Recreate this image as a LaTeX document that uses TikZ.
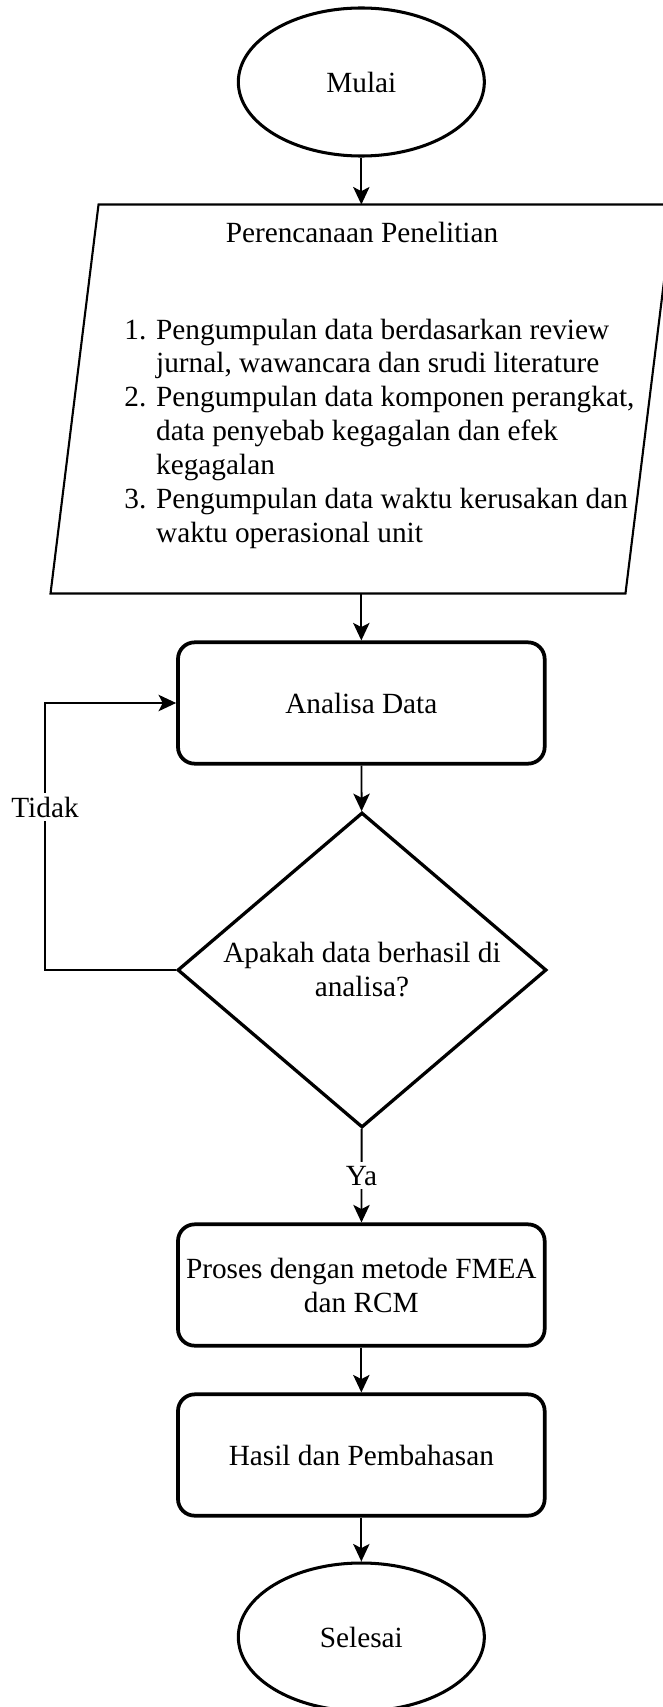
\documentclass[tikz,border=0pt]{standalone}
\usepackage{fontspec}
\setmainfont{Liberation Serif}
\usetikzlibrary{arrows.meta, positioning, shapes.geometric}

\begin{document}
\begin{tikzpicture}[
    every node/.style={font=\fontsize{12.5}{14.5}\selectfont},
    terminal/.style={draw, ellipse, line width=1.3pt,
                     minimum width=3.69cm, minimum height=2.22cm},
    process/.style ={draw, rectangle, rounded corners=0.25cm, line width=1.6pt,
                     align=center, inner sep=1pt,
                     minimum width=5.5cm, minimum height=1.82cm},
    inout/.style   ={rectangle, minimum width=8.61cm, minimum height=5.82cm},
    slant/.style   ={line width=0.9pt},
    decision/.style={draw, diamond, aspect=1.17, line width=1.4pt,
                     align=center, inner sep=1pt,
                     minimum width=5.535cm, minimum height=4.725cm},
    arr/.style={-{Stealth[length=7.5pt, width=7pt, inset=1.8pt]}, line width=0.8pt},
    elabel/.style={fill=white, inner sep=1.5pt}
]
\useasboundingbox (0,0) rectangle (9.93,-25.605);

\node[terminal] (mulai)  at (5.42, -1.23)  {Mulai};
\node[inout]    (plan)   at (5.43, -5.985) {};
% input/output box: slanted sides
\draw[slant] ([xshift=0.36cm]plan.north west) -- ([xshift=0.36cm]plan.north east)
          -- ([xshift=-0.36cm]plan.south east) -- ([xshift=-0.36cm]plan.south west) -- cycle;
\node           (ptitle) at (5.43, -3.48)  {Perencanaan Penelitian};
\node[anchor=base west, inner sep=0] (plist) at (1.86, -5.085) {%
  \begin{tabular}[t]{@{}r@{ }l@{}}
  1. & Pengumpulan data berdasarkan review\\
     & jurnal, wawancara dan srudi literature\\
  2. & Pengumpulan data komponen perangkat,\\
     & data penyebab kegagalan dan efek\\
     & kegagalan\\
  3. & Pengumpulan data waktu kerusakan dan\\
     & waktu operasional unit
  \end{tabular}};
\node[process]  (ana)     at (5.42, -10.545) {Analisa Data};
\node[decision] (dec)     at (5.43, -14.55)  {Apakah data berhasil di\\analisa?};
\node[process]  (fmea)    at (5.42, -19.275) {Proses dengan metode FMEA\\dan RCM};
\node[process]  (hasil)   at (5.42, -21.825) {Hasil dan Pembahasan};
\node[terminal] (selesai) at (5.42, -24.555) {Selesai};

% loop back when the analysis fails
\coordinate (loopx) at (0.675, 0);

\draw[arr] (mulai) -- (mulai |- plan.north);
\draw[arr] (ana |- plan.south) -- (ana);
\draw[arr] (ana) -- (dec);
\draw[arr] (dec) -- node[elabel] {Ya} (fmea);
\draw[arr] (dec.west) -- (dec.west -| loopx)
           -- node[elabel, pos=0.61] {Tidak} (ana.west -| loopx) -- (ana.west);
\draw[arr] (fmea)  -- (hasil);
\draw[arr] (hasil) -- (selesai);
\end{tikzpicture}
\end{document}
